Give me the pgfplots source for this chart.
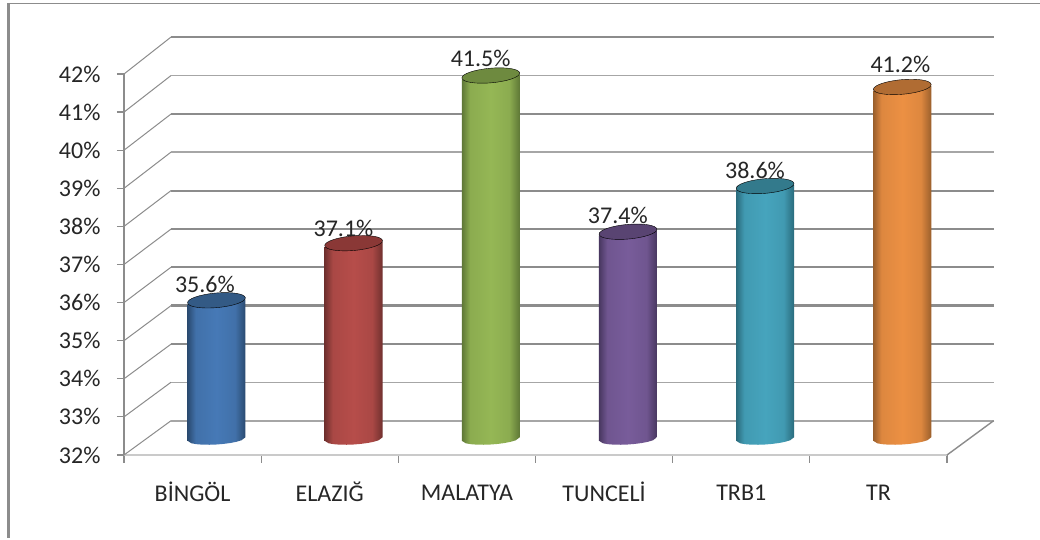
\documentclass[border=0pt]{standalone}
\usepackage{pgfplots}
\usepackage{pgfplotstable}
\usepackage{fontspec}
\setmainfont{Carlito}
\pgfplotsset{compat=1.18}
\definecolor{gridd}{HTML}{8C8C8C}
\definecolor{gridl}{HTML}{A6A6A6}
\newcommand{\mk}[4]{%
 \definecolor{#1m}{HTML}{#2}\definecolor{#1e}{HTML}{#3}\definecolor{#1s}{HTML}{#4}%
 \colorlet{#1n}{#1m!82!#1e}%
 \pgfdeclarehorizontalshading{s#1}{100bp}{color(0bp)=(#1e);color(25bp)=(#1e);color(32bp)=(#1n);color(50bp)=(#1m);color(66bp)=(#1n);color(75bp)=(#1e);color(100bp)=(#1e)}}
\mk{bb}{4679B6}{2A4A70}{335A85}
\mk{rr}{B64D4A}{70302E}{8A3836}
\mk{gg}{95B755}{5E7736}{6E8A3F}
\mk{pp}{785C9A}{483760}{594472}
\mk{tt}{46A4BD}{2A6B7C}{337A8C}
\mk{oo}{EC9043}{9A5F2C}{B06C33}
\pgfplotstableread{
u top d
-29 1 -2.5
29 1 2.5
29 0 1.74
25 0 -1.29
20 0 -2.78
14 0 -3.98
7 0 -4.92
0 0 -5.5
-7 0 -5.76
-14 0 -5.66
-20 0 -5.18
-25 0 -4.29
-29 0 -1.74
}\cylprofile
\pgfplotstableread{
lx ly v
0.09 35.65 35.6
1.10 37.1 37.1
2.10 41.58 41.5
3.10 37.45 37.4
4.10 38.63 38.6
5.16 41.41 41.2
}\labels
\newcommand{\cyl}[3]{%
 \addplot[draw=none,shade,shading=s#3,forget plot] table[x expr=#1+0.174+\thisrow{u}/137.17,
   y expr=\thisrow{top}*(#2-32)+32.42+\thisrow{d}/38.1]{\cylprofile} --cycle;
 \addplot[only marks,mark=*,mark size=1pt,forget plot,
   mark options={draw=none,fill=#3s,rotate=5,xscale=29,yscale=7.3}] coordinates {(#1+0.174,#2+0.46)};}
\newcommand{\wall}[4]{%
 \addplot[gridd,line width=1pt,forget plot] coordinates {(-0.5,#1) (-0.157,#2)};
 \addplot[#4,line width=#3,forget plot] coordinates {(-0.157,#2) (5.84,#2)};}
\begin{document}
\begin{tikzpicture}[x=1pt,y=1pt]
\useasboundingbox (0,0) rectangle (1040,540);
\fill[white] (0,0) rectangle (1040,540);
\draw[gridd,line width=1pt] (7,536.5) -- (1040,536.5);
\draw[gridd,line width=3pt] (8,537) -- (8,2);
\begin{axis}[
 at={(124pt,85pt)},anchor=south west,scale only axis,width=823pt,height=381pt,
 xmin=-0.5,xmax=5.5,ymin=32,ymax=42,clip=false,
 axis x line*=bottom,axis y line*=left,
 axis line style={-},
 x axis line style={draw=gridl!60,line width=2pt},
 y axis line style={draw=gridd,line width=1.2pt},
 xtick={0,1,2,3,4,5},
 xticklabels={BİNGÖL,ELAZIĞ,MALATYA,TUNCELİ,TRB1,TR},
 typeset ticklabels with strut,
 minor xtick={-0.5,0.5,1.5,2.5,3.5,4.5,5.5},
 xtick style={draw=none},
 minor tick length=8pt,
 minor x tick style={draw=gridd,line width=1.2pt},
 ytick={32,33,34,35,36,37,38,39,40,41,42},
 tick align=outside,tickwidth=7pt,
 y tick style={draw=gridd,line width=1.2pt},
 yticklabel={\pgfmathprintnumber{\tick}\%},
 /pgf/number format/assume math mode=true,
 tick label style={font=\fontsize{24}{27}\selectfont,text=black!85},
 yticklabel style={xshift=-13pt},
 xticklabel style={yshift=-16pt},
]
\wall{32}{32.90}{2.2pt}{gridl}
\wall{33}{33.91}{1pt}{gridl}
\wall{34}{34.91}{2.4pt}{gridd}
\wall{35}{35.92}{2.6pt}{gridd}
\wall{36}{36.93}{1.6pt}{gridd}
\wall{37}{37.93}{2.4pt}{gridd}
\wall{38}{38.94}{2pt}{gridd}
\wall{39}{39.95}{2pt}{gridl}
\wall{40}{40.95}{2.6pt}{gridd}
\wall{41}{41.96}{1.4pt}{gridl}
\wall{42}{42.97}{2.8pt}{gridd}
\addplot[gridd,line width=1.4pt,forget plot] coordinates {(5.5,32) (5.84,32.90)};
\cyl{0}{35.6}{bb}
\cyl{1}{37.1}{rr}
\cyl{2}{41.5}{gg}
\cyl{3}{37.4}{pp}
\cyl{4}{38.6}{tt}
\cyl{5}{41.2}{oo}
\addplot[only marks,mark=none,forget plot,point meta=explicit,
 nodes near coords={\pgfmathprintnumber[fixed,precision=1,fixed zerofill]{\pgfplotspointmeta}\%},
 every node near coord/.append style={font=\fontsize{24}{27}\selectfont,text=black!85,anchor=center,yshift=32pt}]
 table[x=lx,y=ly,meta=v]{\labels};
\end{axis}
\end{tikzpicture}
\end{document}
